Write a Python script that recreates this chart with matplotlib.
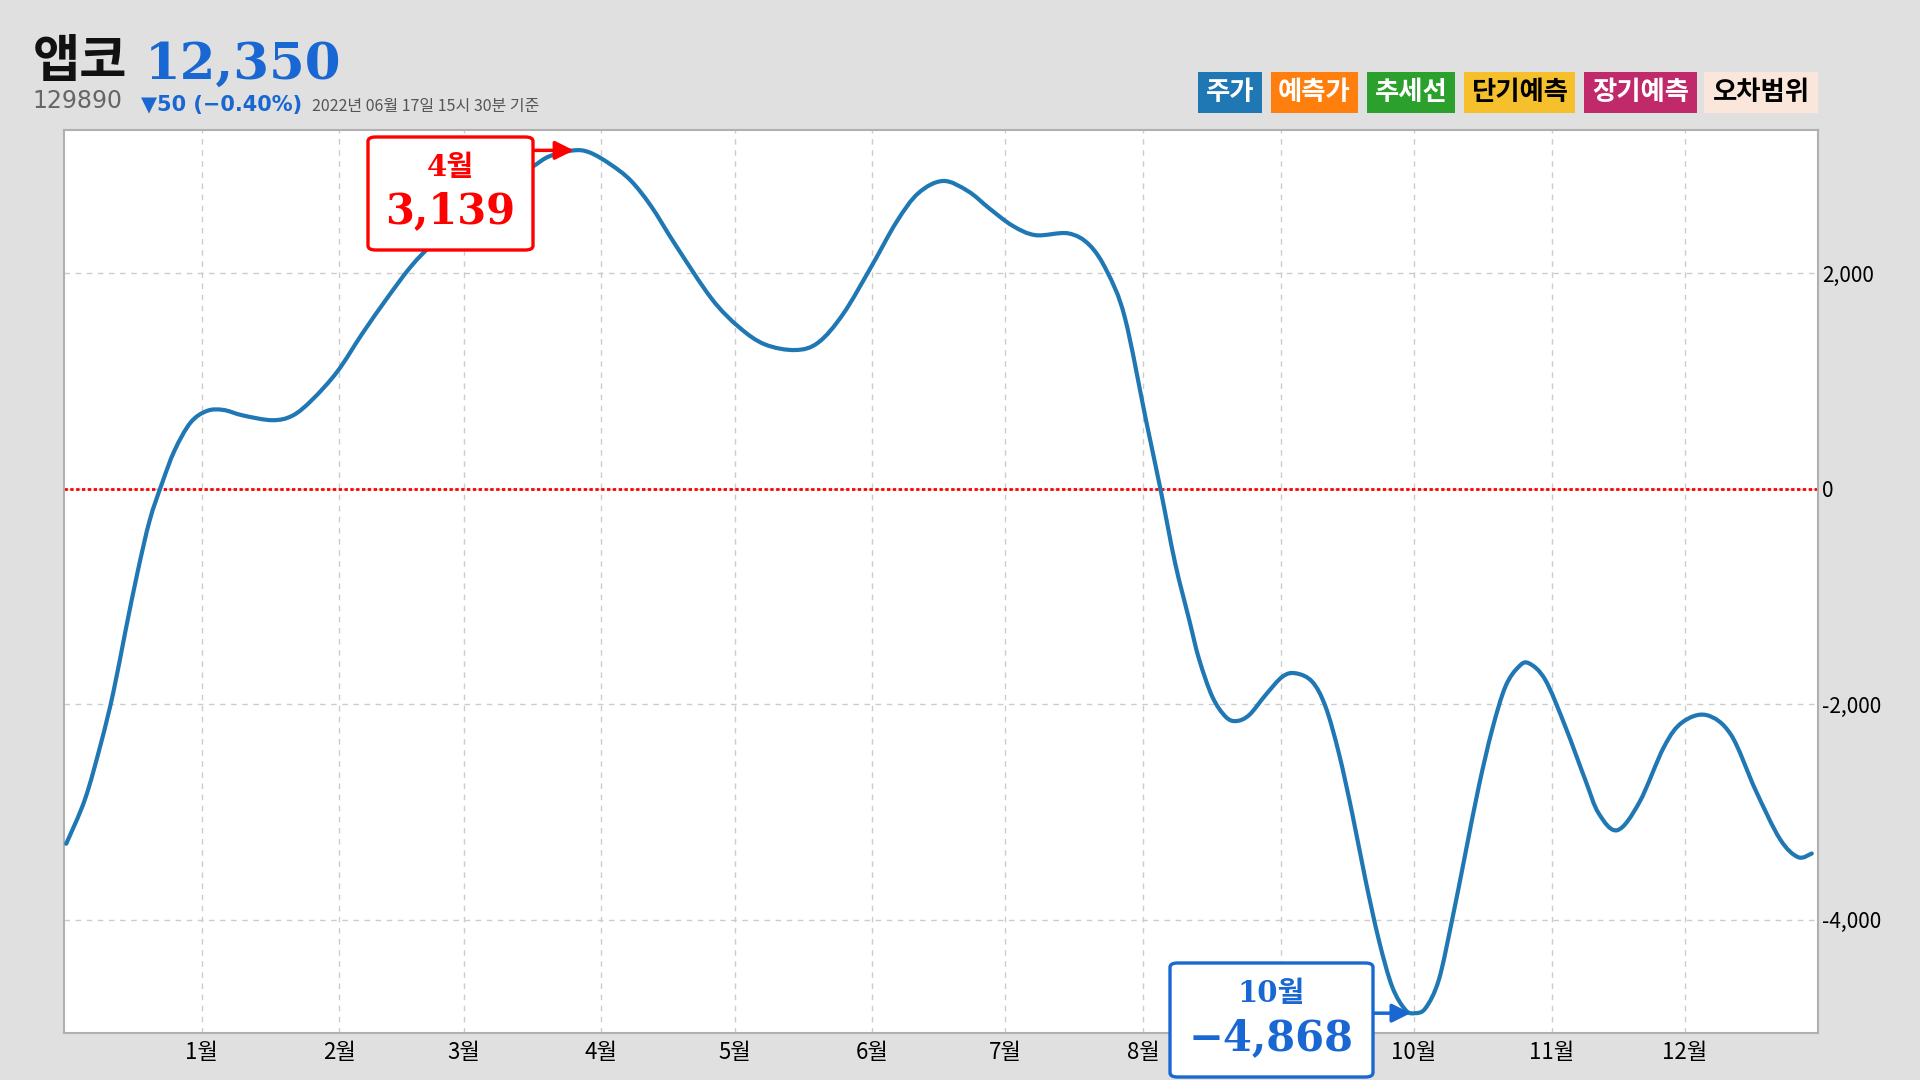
import numpy as np
import matplotlib
matplotlib.use("Agg")
import matplotlib.pyplot as plt
from matplotlib.patches import FancyBboxPatch, Rectangle, PathPatch
from matplotlib.path import Path
from matplotlib.ticker import FuncFormatter

plt.rcParams["font.family"] = ["Noto Sans CJK KR", "DejaVu Sans"]

# days counted from 2022-01-01
days = [-30.5, -26.3, -22.7, -19.9, -17.2, -14.4, -11.7, -8.9, -6.1, -2.5,
        1.2, 4.9, 9.4, 15.9, 20.5, 25.0, 30.6, 36.1, 41.6, 47.1,
        52.6, 58.0, 64.0, 69.5, 74.6, 78.3, 83.8, 87.4, 92.0, 96.6,
        101.2, 106.7, 114.8, 121.0, 126.8, 133.7, 138.9, 144.5, 150.9, 156.5,
        161.4, 167.0, 172.6, 177.4, 182.6, 187.8, 195.1, 199.9, 203.9, 207.9,
        212.7, 215.9, 219.2, 222.4, 224.6, 227.6, 230.6, 233.0, 235.9, 239.6,
        243.4, 246.4, 250.1, 253.1, 256.1, 259.1, 262.1, 265.1, 268.1, 271.1,
        273.2, 275.6, 278.6, 281.6, 284.6, 287.6, 290.6, 293.6, 296.6, 298.9,
        302.6, 307.1, 311.6, 314.6, 318.8, 323.8, 329.3, 333.4, 338.9, 344.4,
        349.9, 355.4, 359.5, 362.6]
values = [-3296, -2886, -2367, -1892, -1330, -769, -294, 52, 354, 613,
          721, 730, 678, 635, 678, 829, 1089, 1434, 1758, 2060,
          2298, 2500, 2700, 2860, 2989, 3084, 3139, 3119, 3011, 2860,
          2622, 2262, 1765, 1499, 1339, 1286, 1357, 1623, 2067, 2476,
          2742, 2855, 2760, 2600, 2440, 2352, 2369, 2262, 2014, 1588,
          628, 0, -686, -1219, -1580, -1931, -2117, -2157, -2101, -1915,
          -1745, -1714, -1792, -2024, -2456, -3013, -3632, -4189, -4622, -4838,
          -4868, -4822, -4560, -4003, -3384, -2766, -2240, -1838, -1653, -1621,
          -1776, -2209, -2704, -3013, -3170, -2909, -2398, -2170, -2102, -2284,
          -2795, -3250, -3420, -3386]

month_starts = [0, 31, 59, 90, 120, 151, 181, 212, 243, 273, 304, 334]
month_labels = [f"{m}월" for m in range(1, 13)]
ytick_vals = [-4000, -2000, 0, 2000]

legend_names = ["주가", "예측가", "추세선", "단기예측", "장기예측", "오차범위"]
legend_colors = ["#1f77b4", "#ff7f0e", "#2ca02c", "#f6c02c", "#c0296a", "#fae6da"]
legend_text = ["white", "white", "white", "black", "white", "black"]

peak_label, peak_day, peak_val = "4월", 83.8, 3139
low_label, low_day, low_val = "10월", 273.2, -4868

W, H = 1920, 1080
fig = plt.figure(figsize=(19.2, 10.8), dpi=100, facecolor="#e0e0e0")


def fx(x):
    return x / W


def fy(y):
    return 1 - y / H


ax = fig.add_axes([fx(64), fy(1033), fx(1818) - fx(64), fy(130) - fy(1033)])
ax.set_facecolor("white")

# smooth line through the read points (catmull-rom as bezier segments)
pts = np.column_stack([days, values]).astype(float)
ext = np.vstack([pts[0], pts, pts[-1]])
verts = [pts[0]]
codes = [Path.MOVETO]
for i in range(len(pts) - 1):
    p0, p1, p2, p3 = ext[i], ext[i + 1], ext[i + 2], ext[i + 3]
    verts += [p1 + (p2 - p0) / 6, p2 - (p3 - p1) / 6, p2]
    codes += [Path.CURVE4] * 3
ax.add_patch(PathPatch(Path(verts, codes), facecolor="none", edgecolor="#1f77b4",
                       lw=3, joinstyle="round", capstyle="round", zorder=3))

ax.axhline(0, color="red", lw=2, linestyle=(0, (1.2, 0.9)), zorder=2)
ax.set_xlim(-31, 364)
ax.set_ylim(-5052, 3328)
ax.set_xticks(month_starts)
ax.set_xticklabels(month_labels)
ax.set_yticks(ytick_vals)
ax.yaxis.set_major_formatter(FuncFormatter(lambda v, p: f"{v:,.0f}"))
ax.yaxis.tick_right()
ax.tick_params(axis="both", length=0, colors="black")
ax.tick_params(axis="x", pad=6, labelsize=16)
ax.tick_params(axis="y", pad=3, labelsize=15)
ax.grid(True, color="#cccccc", lw=1, linestyle=(0, (4, 4)))
for s in ax.spines.values():
    s.set_color("#b0b0b0")
    s.set_linewidth(1.5)

# header
fig.text(fx(33), fy(77), "앱코", fontsize=37, fontweight="bold", color="#111111")
fig.text(fx(145), fy(79), "12,350", fontsize=37, fontweight="bold", color="#1967d2",
         family=["DejaVu Serif"])
fig.text(fx(32), fy(108), "129890", fontsize=17, color="#666666", family=["DejaVu Sans"])
fig.text(fx(141), fy(111), "▼50 (−0.40%)", fontsize=15, fontweight="bold", color="#1967d2",
         family=["DejaVu Sans"])
fig.text(fx(312), fy(111), "2022년 06월 17일 15시 30분 기준", fontsize=11.5, color="#555555")

# legend chips
chip_x = [1198, 1271, 1367, 1464, 1584, 1704]
chip_w = [64, 87, 88, 111, 113, 114]
for x0, w, name, c, tc in zip(chip_x, chip_w, legend_names, legend_colors, legend_text):
    fig.patches.append(Rectangle((fx(x0), fy(113)), fx(w), fy(72) - fy(113),
                                 transform=fig.transFigure, facecolor=c, edgecolor="none"))
    fig.text(fx(x0 + w / 2), fy(92.5), name, fontsize=19, fontweight="bold", color=tc,
             ha="center", va="center")


def callout(x0, y0, x1, y1, color, month, num):
    fig.patches.append(FancyBboxPatch((fx(x0), fy(y1)), fx(x1 - x0), fy(y0) - fy(y1),
                                      boxstyle="round,pad=0,rounding_size=0.004",
                                      transform=fig.transFigure, facecolor="white",
                                      edgecolor=color, lw=2.4, zorder=10))
    cx = fx((x0 + x1) / 2)
    h = y1 - y0
    fig.text(cx, fy(y0 + h * 0.27), month, fontsize=21, fontweight="bold", color=color,
             ha="center", va="center", family=["DejaVu Serif", "Noto Sans CJK KR"], zorder=11)
    fig.text(cx, fy(y0 + h * 0.66), num, fontsize=30, fontweight="bold", color=color,
             ha="center", va="center", family=["DejaVu Serif"], zorder=11)


callout(368, 137, 533, 250, "red", peak_label, f"{peak_val:,}")
ax.annotate("", xy=(peak_day, peak_val), xytext=(-28, 0), textcoords="offset points",
            arrowprops=dict(arrowstyle="-|>", color="red", lw=2.5, mutation_scale=28,
                            shrinkA=0, shrinkB=0), zorder=12)

callout(1170, 963, 1373, 1077, "#1967d2", low_label, f"{low_val:,}".replace("-", "−"))
ax.annotate("", xy=(low_day, low_val), xytext=(-31, 0), textcoords="offset points",
            arrowprops=dict(arrowstyle="-|>", color="#1967d2", lw=2.5, mutation_scale=28,
                            shrinkA=0, shrinkB=3), zorder=12)

fig.savefig("out.png", dpi=100, facecolor=fig.get_facecolor())
